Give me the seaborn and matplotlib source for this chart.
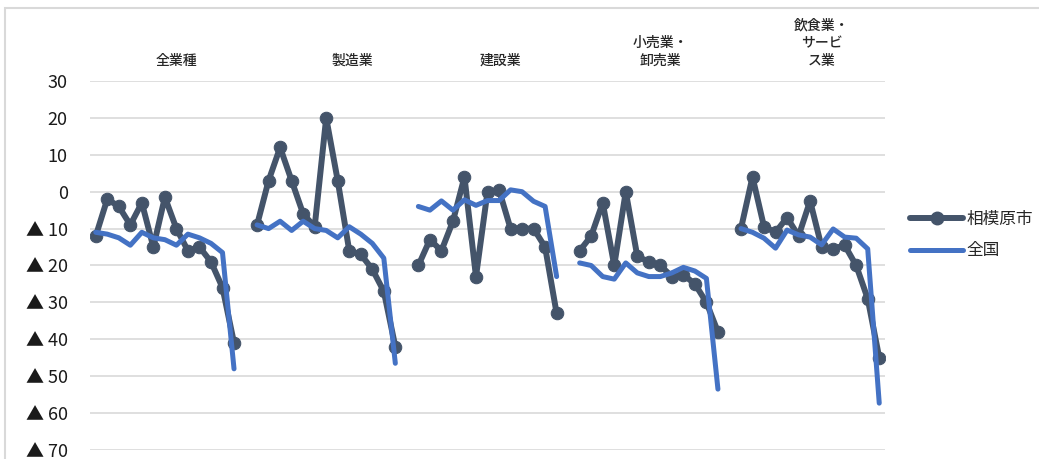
import numpy as np
import pandas as pd
import seaborn as sns
import matplotlib
matplotlib.use('Agg')
import matplotlib.pyplot as plt
from matplotlib.patches import Rectangle
from matplotlib.lines import Line2D

# Industry groups (13 survey periods each)
industries = ['全業種', '製造業', '建設業', '小売業・\n卸売業', '飲食業・\nサービ\nス業']

sagamihara_all = [-12, -2, -4, -9, -3, -15, -1.5, -10, -16, -15, -19, -26, -41]
sagamihara_mfg = [-9, 3, 12, 3, -6, -9.5, 20, 3, -16, -17, -21, -27, -42]
sagamihara_con = [-20, -13, -16, -8, 4, -23, 0, 0.5, -10, -10, -10, -15, -33]
sagamihara_ret = [-16, -12, -3, -20, 0, -17.5, -19, -20, -23, -22.5, -25, -30, -38]
sagamihara_svc = [-10, 4, -9.5, -11, -7, -12, -2.5, -15, -15.5, -14.5, -20, -29, -45]

national_all = [-11, -11.5, -12.5, -14.5, -11, -12.5, -13, -14.5, -11.5, -12.5, -14, -16.5, -48]
national_mfg = [-9, -10, -8, -10.5, -8, -10, -10.5, -12.5, -9.5, -11.5, -14, -18, -46.5]
national_con = [-4, -5, -2.5, -5, -2.2, -3.7, -2.4, -2.4, 0.5, 0, -2.6, -4, -23]
national_ret = [-19.3, -20, -23, -23.7, -19.3, -22, -23, -23, -22, -20.5, -21.5, -23.5, -53.5]
national_svc = [-10, -11, -12.6, -15.3, -10.4, -11.7, -12.3, -14.4, -10.1, -12.3, -12.6, -15.5, -57.3]

sagamihara = [sagamihara_all, sagamihara_mfg, sagamihara_con, sagamihara_ret, sagamihara_svc]
national = [national_all, national_mfg, national_con, national_ret, national_svc]

# label x offsets (category slots) above each group
label_offsets = [7.0, 8.3, 7.1, 7.0, 7.0]

n_per = 13
slot = n_per + 1  # one empty category between groups

rows = []
for g, name in enumerate(industries):
    for j in range(n_per):
        rows.append({'x': g * slot + j, 'group': g, 'series': '相模原市', 'value': sagamihara[g][j]})
        rows.append({'x': g * slot + j, 'group': g, 'series': '全国', 'value': national[g][j]})
df = pd.DataFrame(rows)

sns.set_style('white')
plt.rcParams['font.family'] = ['Noto Sans CJK JP', 'DejaVu Sans']

fig = plt.figure(figsize=(10.39, 4.59), dpi=100)
ax = fig.add_axes([90 / 1039, 1 - 450 / 459, (885 - 90) / 1039, (450 - 81) / 459])

dark = '#44546A'
blue = '#4472C4'

# city line with markers, national line drawn on top
sns.lineplot(data=df[df['series'] == '相模原市'], x='x', y='value', units='group', estimator=None,
             color=dark, linewidth=4.3, marker='o', markersize=9, markeredgecolor=dark,
             ax=ax, legend=False, zorder=3)
sns.lineplot(data=df[df['series'] == '全国'], x='x', y='value', units='group', estimator=None,
             color=blue, linewidth=3.6, ax=ax, legend=False, zorder=4)

n_cat = slot * len(industries) - 1
ax.set_xlim(-0.5, n_cat - 0.5)
ax.set_ylim(-70, 30)
yticks = np.arange(-70, 31, 10)
ax.set_yticks(yticks)
ax.set_yticklabels([f'▲ {abs(v)}' if v < 0 else f'{v}' for v in yticks], fontsize=13, color='#1a1a1a')
ax.tick_params(axis='y', length=0, pad=16)
ax.set_xticks([])
ax.set_xlabel('')
ax.set_ylabel('')
ax.grid(axis='y', color='#D9D9D9', linewidth=1.2)
ax.set_axisbelow(True)
for s in ax.spines.values():
    s.set_visible(False)

# group titles above the lines
for g, name in enumerate(industries):
    ax.text(g * slot + label_offsets[g], 33.5, name, ha='center', va='bottom',
            fontsize=10, fontweight='medium', linespacing=1.35, clip_on=False)

# legend
handles = [Line2D([], [], color=dark, linewidth=4.3, marker='o', markersize=9),
           Line2D([], [], color=blue, linewidth=3.6)]
fig.legend(handles, ['相模原市', '全国'], loc='center left', bbox_to_anchor=(895 / 1039, 1 - 235 / 459),
           frameon=False, fontsize=12, handlelength=3.2, labelspacing=0.9, handletextpad=0.2)

# chart area border
fig.patches.append(Rectangle((5 / 1039, -0.1), 1.2, 1 - 8 / 459 + 0.1, transform=fig.transFigure,
                             fill=False, edgecolor='#D9D9D9', linewidth=1.5))

fig.savefig('out.png', dpi=100)
